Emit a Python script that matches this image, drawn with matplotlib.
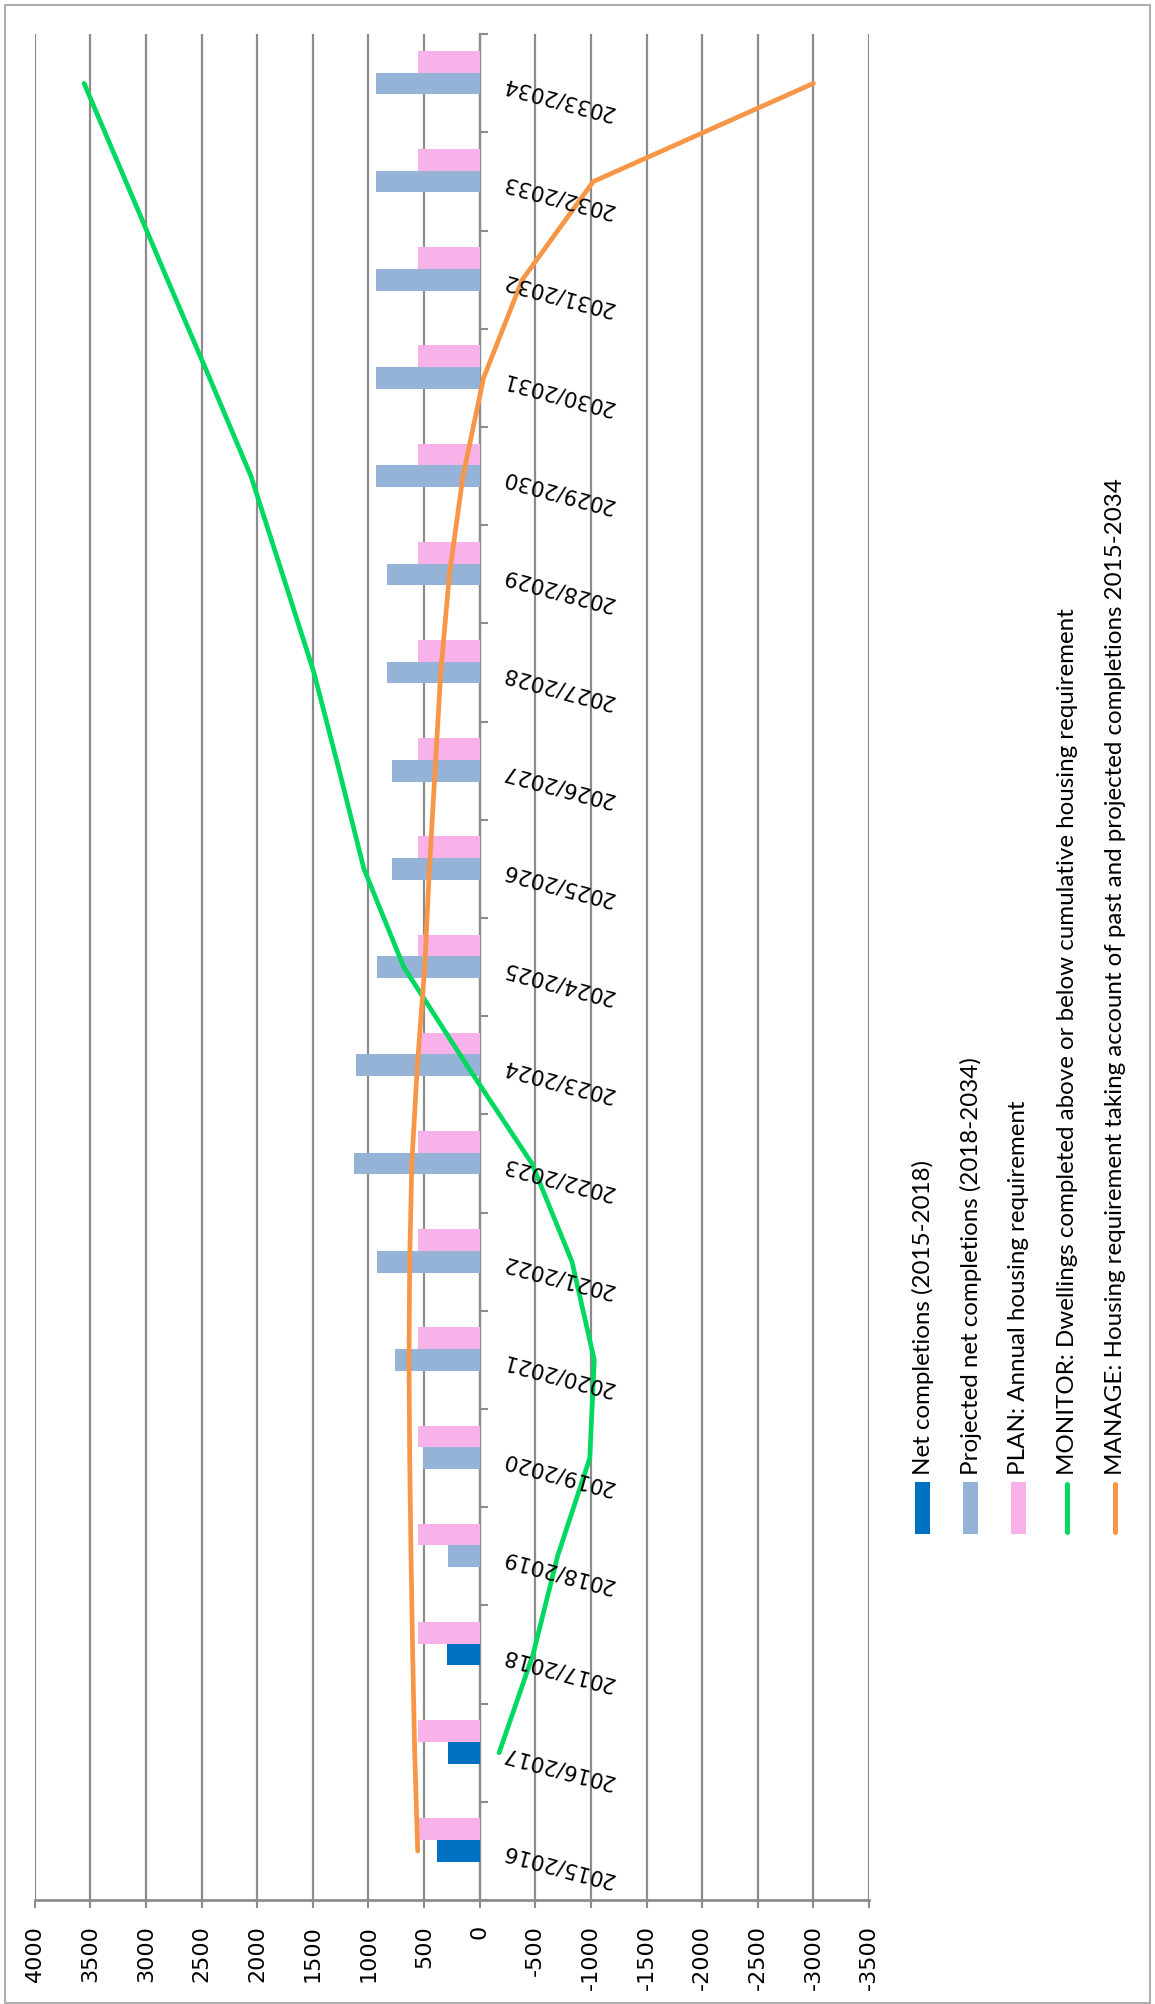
import numpy as np
import matplotlib
matplotlib.use("Agg")
import matplotlib.pyplot as plt
from matplotlib.patches import Rectangle
from matplotlib.lines import Line2D

plt.rcParams["axes.unicode_minus"] = False

# ---- data -------------------------------------------------------------
categories = ["2015/2016", "2016/2017", "2017/2018", "2018/2019", "2019/2020",
              "2020/2021", "2021/2022", "2022/2023", "2023/2024", "2024/2025",
              "2025/2026", "2026/2027", "2027/2028", "2028/2029", "2029/2030",
              "2030/2031", "2031/2032", "2032/2033", "2033/2034"]

net_completions = [386, 289, 298, None, None, None, None, None, None, None,
                   None, None, None, None, None, None, None, None, None]
projected_completions = [None, None, None, 283, 512, 760, 922, 1132, 1114, 919,
                         784, 784, 835, 835, 931, 931, 931, 931, 931]
plan_requirement = [557] * 19
monitor_cumulative = [None, -175, -480, -700, -990, -1030, -830, -470, 115, 682,
                      1040, 1262, 1490, 1772, 2056, 2428, 2806, 3180, 3556]
manage_requirement = [557, 584, 602, 617, 629, 635, 629, 610, 560, 494,
                      452, 401, 350, 272, 150, -35, -383, -1021, -3000]

value_ticks = list(range(-3500, 4001, 500))

legend_labels = [
    "Net completions (2015-2018)",
    "Projected net completions (2018-2034)",
    "PLAN: Annual housing requirement",
    "MONITOR: Dwellings completed above or below cumulative housing requirement",
    "MANAGE: Housing requirement taking account of past and projected completions 2015-2034",
]

# ---- style ------------------------------------------------------------
C_NET = "#0070C0"
C_PROJ = "#95B3D7"
C_PLAN = "#F9B1EA"
C_MON = "#00D95F"
C_MAN = "#F79646"
C_GRID = "#8C8C8C"

W, H = 1155, 2004
fig = plt.figure(figsize=(W / 100, H / 100), dpi=100)

x0, x1 = 34.7, 869.0
y_top, y_bot = 34.3, 1900.0
ax = fig.add_axes([x0 / W, 1 - y_bot / H, (x1 - x0) / W, (y_bot - y_top) / H])

n = len(categories)
ypos = np.arange(n)
bar_h = 0.221


def pick(values):
    idx = [i for i, v in enumerate(values) if v is not None]
    return np.array(idx), np.array([values[i] for i in idx], dtype=float)


i_net, v_net = pick(net_completions)
i_proj, v_proj = pick(projected_completions)
i_plan, v_plan = pick(plan_requirement)
i_mon, v_mon = pick(monitor_cumulative)
i_man, v_man = pick(manage_requirement)

ax.barh(i_net, v_net, height=bar_h, color=C_NET, zorder=3)
ax.barh(i_proj, v_proj, height=bar_h, color=C_PROJ, zorder=3)
ax.barh(i_plan + bar_h, v_plan, height=bar_h, color=C_PLAN, zorder=3)

ax.plot(v_mon, i_mon, color=C_MON, lw=3.4, solid_capstyle="round",
        solid_joinstyle="round", zorder=5)
ax.plot(v_man, i_man, color=C_MAN, lw=3.4, solid_capstyle="round",
        solid_joinstyle="round", zorder=6)

# value axis (drawn along the bottom, high values on the left)
ax.set_xlim(4000, -3500)
ax.set_ylim(-0.5, n - 0.5)
ax.set_xticks(value_ticks)
ax.set_xticklabels([str(v) for v in value_ticks])
ax.xaxis.grid(True, color=C_GRID, lw=1.6, zorder=0)
ax.set_axisbelow(True)
ax.tick_params(axis="x", length=6, width=1.5, color=C_GRID, pad=12,
               labelsize=16, labelrotation=90)

for side in ("top", "left"):
    ax.spines[side].set_visible(False)
ax.spines["bottom"].set_color(C_GRID)
ax.spines["bottom"].set_linewidth(2.0)

# category axis sits on the zero line
ax.spines["right"].set_position(("data", 0))
ax.spines["right"].set_color(C_GRID)
ax.spines["right"].set_linewidth(1.6)
ax.yaxis.set_ticks_position("right")
ax.set_yticks(ypos)
ax.set_yticklabels([])
ax.set_yticks(np.arange(-0.5, n, 1.0), minor=True)
ax.tick_params(axis="y", which="major", length=0)
ax.tick_params(axis="y", which="minor", length=6, width=1.5, color=C_GRID,
               direction="out")

for i, cat in enumerate(categories):
    ax.annotate(cat, xy=(0, i), xycoords="data", xytext=(16, 0),
                textcoords="offset points", rotation=165,
                rotation_mode="anchor", ha="right", va="center",
                fontsize=15.3, annotation_clip=False, zorder=7)

# legend, laid out in columns on the right
col_x = [922.5, 970.5, 1018.5, 1067.0, 1115.0]
mk_top, mk_bot = 1482.0, 1534.0
kinds = [("bar", C_NET), ("bar", C_PROJ), ("bar", C_PLAN),
         ("line", C_MON), ("line", C_MAN)]
for cx, (kind, col), lab in zip(col_x, kinds, legend_labels):
    if kind == "bar":
        fig.patches.append(Rectangle(((cx - 7.5) / W, 1 - mk_bot / H),
                                     15 / W, (mk_bot - mk_top) / H,
                                     transform=fig.transFigure,
                                     facecolor=col, edgecolor="none"))
    else:
        fig.lines.append(Line2D([cx / W, cx / W],
                                [1 - (mk_bot - 2) / H, 1 - (mk_top + 2) / H],
                                transform=fig.transFigure, color=col, lw=3.6,
                                solid_capstyle="round"))
    fig.text(cx / W, 1 - 1475 / H, lab, rotation=90, ha="center", va="bottom",
             fontsize=17.4, family="Lato")

# chart border
fig.patches.append(Rectangle((5 / W, 1 - 2003 / H), (1150 - 5) / W,
                             (2003 - 5) / H, transform=fig.transFigure,
                             fill=False, edgecolor="#A0A0A0", lw=1.2))

fig.savefig("out.png", dpi=100, facecolor="white")
